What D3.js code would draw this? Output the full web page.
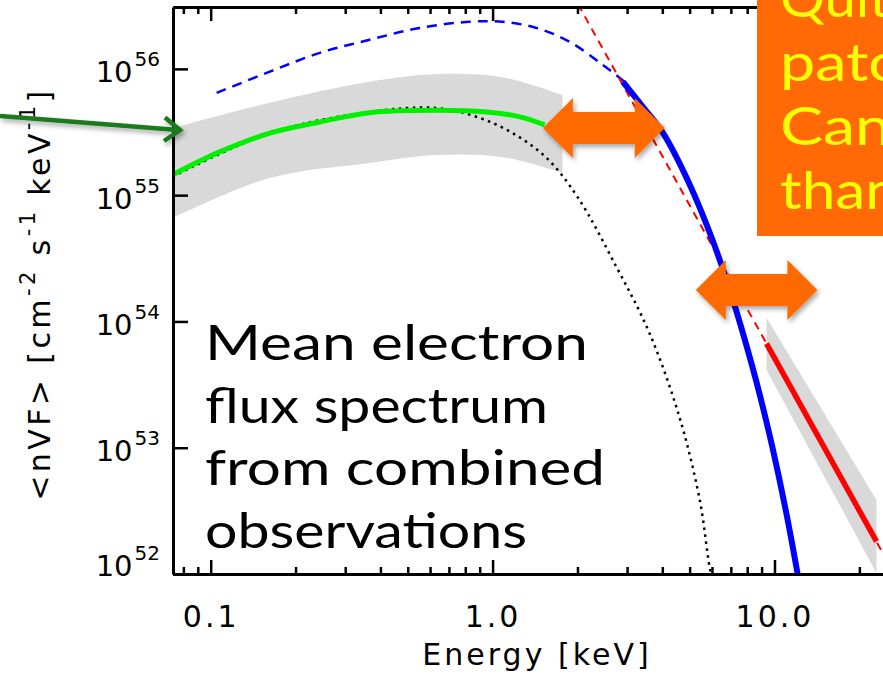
<!DOCTYPE html>
<meta charset="utf-8">
<script src="https://d3js.org/d3.v7.min.js"></script>
<style>
  body { margin: 0; background: #fff; }
  svg { display: block; }
</style>
<div id="my_dataviz"></div>
<script>

// ---- data: energy [keV] and <nVF> [cm^-2 s^-1 keV^-1] ----

// green: mean electron flux from the low energy observations
var greenE = [0.0733, 0.1076, 0.162, 0.244, 0.366, 0.633, 0.952, 1.25, 1.53];
var greenF = [1.45e55, 2.2e55, 3.1e55, 3.8e55, 4.5e55, 4.7e55, 4.56e55, 4.17e55, 3.6e55];

// grey uncertainty band round the green curve
var bandE  = [0.0733, 0.162, 0.366, 0.633, 1.085, 1.77];
var bandLo = [6.6e54, 1.37e55, 1.8e55, 2.08e55, 2.0e55, 1.5e55];
var bandHi = [3.4e55, 5.4e55, 7.9e55, 9.1e55, 8.6e55, 6.2e55];

// black dotted: thermal fit
var dotE = [0.0733, 0.162, 0.366, 0.633, 0.877, 1.178, 1.554, 2.0, 2.75, 3.6, 4.6, 5.43, 5.89, 6.05];
var dotF = [1.40e55, 3.1e55, 4.56e55, 4.9e55, 4.17e55, 3.1e55, 1.97e55, 9.7e54, 2.7e54, 8.1e53, 1.75e53, 3.86e52, 1.13e52, 8.9e51];

// blue dashed: second thermal component
var blueDashE = [0.105, 0.162, 0.244, 0.366, 0.551, 0.829, 1.085, 1.43, 1.875, 2.455, 2.94];
var blueDashF = [6.46e55, 9.5e55, 1.34e56, 1.70e56, 2.11e56, 2.36e56, 2.36e56, 2.11e56, 1.64e56, 1.08e56, 7.9e55];

// blue solid: the same component where it is observed
var blueE = [2.90, 3.41, 4.02, 5.01, 5.99, 6.94, 7.85, 8.87, 9.86, 10.96, 12.1];
var blueF = [7.9e55, 5.0e55, 3.11e55, 1.205e55, 4.58e54, 1.78e54, 7.14e53, 2.62e53, 9.78e52, 3.21e52, 9.8e51];

// red dashed: power-law fit; red solid: observed range
var redFitE = [1.9, 25];
var redFitF = [4.07e56, 1.29e52];
var redE = [9.37, 23];
var redF = [6.68e53, 1.81e52];
var redLo = [4.13e53, 1.02e52];
var redHi = [1.07e54, 3.86e52];

// axis ticks
var xMajor = [0.1, 1, 10];
var xLabels = ["0.1", "1.0", "10.0"];
var yMajor = [1e52, 1e53, 1e54, 1e55, 1e56];

// annotation arrows (energy span, flux level) and texts
var arrowE = [[1.508, 4.08], [5.26, 14.2]];
var arrowF = [3.41e55, 1.77e54];
var noteLines = ["Mean electron", "flux spectrum", "from combined", "observations"];
var noteWidths = [383, 343, 400, 322];
var boxLines = ["Quite", "patchy", "Can", "than"];
var boxWidths = [139, 185, 111, 119];

// ---- set up ----
var W = 883, H = 685;
var margin = {top: 7, left: 173, bottom: 574, right: 909};
var orange = "#ff6a06";

var svg = d3.select("#my_dataviz")
  .append("svg")
    .attr("width", W)
    .attr("height", H)
    .style("background", "#fff");

var defs = svg.append("defs");
defs.append("clipPath").attr("id", "plotclip")
  .append("rect")
    .attr("x", margin.left).attr("y", margin.top)
    .attr("width", margin.right - margin.left)
    .attr("height", margin.bottom - margin.top);
var shadow = defs.append("filter").attr("id", "shadow")
  .attr("x", "-20%").attr("y", "-20%").attr("width", "140%").attr("height", "160%");
shadow.append("feDropShadow")
  .attr("dx", 2).attr("dy", 3).attr("stdDeviation", 2.5)
  .attr("flood-color", "#000").attr("flood-opacity", 0.35);

var x = d3.scaleLog()
  .domain([0.0735, 30])
  .range([margin.left, margin.right]);
var y = d3.scaleLog()
  .domain([1e52, Math.pow(10, 56.49)])
  .range([margin.bottom, margin.top]);

var line = d3.line()
  .x(function(d) { return x(d[0]); })
  .y(function(d) { return y(d[1]); })
  .curve(d3.curveCatmullRom.alpha(0.5));
var straight = d3.line()
  .x(function(d) { return x(d[0]); })
  .y(function(d) { return y(d[1]); });
var area = d3.area()
  .x(function(d) { return x(d[0]); })
  .y0(function(d) { return y(d[1]); })
  .y1(function(d) { return y(d[2]); })
  .curve(d3.curveCatmullRom.alpha(0.5));

var plot = svg.append("g").attr("clip-path", "url(#plotclip)");

// bands
plot.append("path")
  .datum(d3.zip(bandE, bandLo, bandHi))
  .attr("fill", "#d9d9d9")
  .attr("d", area);
plot.append("path")
  .datum(d3.zip(redE, redLo, redHi))
  .attr("fill", "#d9d9d9")
  .attr("d", area.curve(d3.curveLinear));

// dotted thermal fit
plot.append("path")
  .datum(d3.zip(dotE, dotF))
  .attr("fill", "none")
  .attr("stroke", "#000")
  .attr("stroke-width", 2.5)
  .attr("stroke-dasharray", "2.5,4.5")
  .attr("d", line);

// green observed spectrum
plot.append("path")
  .datum(d3.zip(greenE, greenF))
  .attr("fill", "none")
  .attr("stroke", "#00f000")
  .attr("stroke-width", 5)
  .attr("d", line);

// blue dashed
plot.append("path")
  .datum(d3.zip(blueDashE, blueDashF))
  .attr("fill", "none")
  .attr("stroke", "#0000ff")
  .attr("stroke-width", 2.5)
  .attr("stroke-dasharray", "10,7")
  .attr("d", line);

// red dashed power law
plot.append("path")
  .datum(d3.zip(redFitE, redFitF))
  .attr("fill", "none")
  .attr("stroke", "#ff0000")
  .attr("stroke-width", 2)
  .attr("stroke-dasharray", "8,6")
  .attr("d", straight);

// blue solid
plot.append("path")
  .datum(d3.zip(blueE, blueF))
  .attr("fill", "none")
  .attr("stroke", "#0000ff")
  .attr("stroke-width", 6)
  .attr("d", line);

// red solid
plot.append("path")
  .datum(d3.zip(redE, redF))
  .attr("fill", "none")
  .attr("stroke", "#ff0000")
  .attr("stroke-width", 5.5)
  .attr("d", straight);

// ---- axes, ticks pointing inwards ----
var xMinor = x.ticks().filter(function(v) { return xMajor.indexOf(v) < 0; });

function styleAxis(g) {
  g.selectAll("path.domain").attr("stroke", "#000").attr("stroke-width", 3);
  g.selectAll(".tick line").attr("stroke", "#000").attr("stroke-width", 2.5);
}

svg.append("g")
  .attr("transform", "translate(0," + margin.bottom + ")")
  .call(d3.axisBottom(x).tickValues(xMinor).tickSize(-7).tickSizeOuter(0).tickFormat(""))
  .call(styleAxis);
var gx = svg.append("g")
  .attr("transform", "translate(0," + margin.bottom + ")")
  .call(d3.axisBottom(x).tickValues(xMajor).tickSize(-14).tickSizeOuter(0)
    .tickFormat(function(d, i) { return xLabels[i]; }))
  .call(styleAxis);
gx.selectAll(".tick text")
  .attr("y", 53).attr("dy", null)
  .attr("font-family", "DejaVu Sans").attr("font-size", 30)
  .attr("letter-spacing", 3)
  .attr("fill", "#000");

svg.append("g")
  .attr("transform", "translate(0," + margin.top + ")")
  .call(d3.axisTop(x).tickValues(xMinor).tickSize(-7).tickSizeOuter(0).tickFormat(""))
  .call(styleAxis);
svg.append("g")
  .attr("transform", "translate(0," + margin.top + ")")
  .call(d3.axisTop(x).tickValues(xMajor).tickSize(-14).tickSizeOuter(0).tickFormat(""))
  .call(styleAxis);

var gy = svg.append("g")
  .attr("transform", "translate(" + margin.left + ",0)")
  .call(d3.axisLeft(y).tickValues(yMajor).tickSize(-15).tickSizeOuter(0))
  .call(styleAxis);
gy.selectAll(".tick text").each(function(d) {
  var t = d3.select(this);
  t.text(null)
    .attr("x", -13).attr("dy", null)
    .attr("y", d === 1e52 ? 1 : 13)
    .attr("font-family", "DejaVu Sans").attr("font-size", 29)
    .attr("fill", "#000");
  t.append("tspan").text("10");
  t.append("tspan").attr("dy", -16).attr("dx", 2).attr("font-size", 20)
    .text(Math.round(Math.log10(d)));
});

// axis titles
svg.append("text")
  .attr("x", 537).attr("y", 665)
  .attr("text-anchor", "middle")
  .attr("font-family", "DejaVu Sans").attr("font-size", 30)
  .attr("letter-spacing", 3)
  .text("Energy [keV]");

var yl = svg.append("text")
  .attr("transform", "translate(50,294) rotate(-90)")
  .attr("text-anchor", "middle")
  .attr("font-family", "DejaVu Sans").attr("font-size", 30)
  .attr("letter-spacing", 3.4);
yl.append("tspan").text("<nVF> [cm");
yl.append("tspan").attr("dy", -15).attr("font-size", 21).text("-2");
yl.append("tspan").attr("dy", 15).text(" s");
yl.append("tspan").attr("dy", -15).attr("font-size", 21).text("-1");
yl.append("tspan").attr("dy", 15).text(" keV");
yl.append("tspan").attr("dy", -15).attr("font-size", 21).text("-1");
yl.append("tspan").attr("dy", 15).text("]");

// ---- annotations ----
function doubleArrow(x1, x2, yc) {
  var hl = 30, hh = 30, hs = 16;
  return [[x1, yc], [x1 + hl, yc - hh], [x1 + hl, yc - hs], [x2 - hl, yc - hs], [x2 - hl, yc - hh],
          [x2, yc], [x2 - hl, yc + hh], [x2 - hl, yc + hs], [x1 + hl, yc + hs], [x1 + hl, yc + hh]];
}
svg.append("g").selectAll("path")
  .data(arrowE)
  .enter().append("path")
    .attr("fill", orange)
    .attr("filter", "url(#shadow)")
    .attr("d", function(d, i) {
      return "M" + doubleArrow(x(d[0]), x(d[1]), y(arrowF[i])).join("L") + "Z";
    });

// text block
svg.append("g").selectAll("text")
  .data(noteLines)
  .enter().append("text")
    .attr("x", 205)
    .attr("y", function(d, i) { return 360 + i * 62.5; })
    .attr("font-family", "Lato").attr("font-size", 48)
    .attr("textLength", function(d, i) { return noteWidths[i]; })
    .attr("lengthAdjust", "spacingAndGlyphs")
    .attr("fill", "#000")
    .text(function(d) { return d; });

// green arrow pointing at the band
var garrow = svg.append("g")
  .attr("fill", "none")
  .attr("stroke", "#1c7a1c")
  .attr("stroke-width", 4.5)
  .attr("filter", "url(#shadow)");
garrow.append("path").attr("d", "M0,116L178,130");
garrow.append("path").attr("d", "M165,117.5L180,130L164,141").attr("stroke-linejoin", "miter");

// orange note box, top right
svg.append("rect")
  .attr("x", 757).attr("y", -5)
  .attr("width", 140).attr("height", 241)
  .attr("fill", orange);
svg.append("g").selectAll("text")
  .data(boxLines)
  .enter().append("text")
    .attr("x", 780)
    .attr("y", function(d, i) { return 17 + i * 64; })
    .attr("font-family", "Lato").attr("font-size", 53)
    .attr("textLength", function(d, i) { return boxWidths[i]; })
    .attr("lengthAdjust", "spacingAndGlyphs")
    .attr("fill", "#ffff00")
    .text(function(d) { return d; });

</script>
